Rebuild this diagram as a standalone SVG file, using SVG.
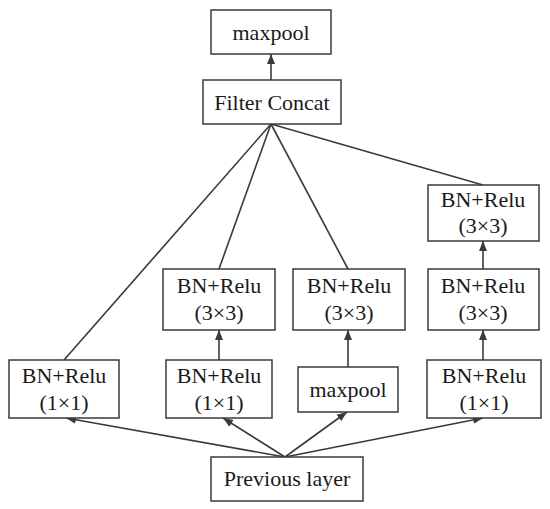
<svg xmlns="http://www.w3.org/2000/svg" width="550" height="509" viewBox="0 0 550 509">
<style>
.box{fill:#fff;stroke:#3a3a3a;stroke-width:1.5}
.t{font-family:"Liberation Serif","Times New Roman",serif;font-size:22px;fill:#1a1a1a;text-anchor:middle}
.ln{stroke:#3a3a3a;stroke-width:1.6;fill:none}
</style>
<defs>
<marker id="ah" markerWidth="10" markerHeight="10" viewBox="0 0 10 10" refX="10" refY="5" orient="auto" markerUnits="userSpaceOnUse">
<path d="M0,1 L10,5 L0,9 Z" fill="#3a3a3a"/>
</marker>
</defs>
<rect width="550" height="509" fill="#fff"/>
<g id="connectors">
<line class="ln" x1="271" y1="80" x2="271" y2="54" marker-end="url(#ah)"/>
<line class="ln" x1="271" y1="124" x2="64" y2="360"/>
<line class="ln" x1="271" y1="124" x2="219" y2="269"/>
<line class="ln" x1="271" y1="124" x2="348" y2="269"/>
<line class="ln" x1="271" y1="124" x2="483" y2="185"/>
<line class="ln" x1="219" y1="360" x2="219" y2="330" marker-end="url(#ah)"/>
<line class="ln" x1="348" y1="367" x2="348" y2="330" marker-end="url(#ah)"/>
<line class="ln" x1="483" y1="360" x2="483" y2="330" marker-end="url(#ah)"/>
<line class="ln" x1="483" y1="269" x2="483" y2="241" marker-end="url(#ah)"/>
<line class="ln" x1="285" y1="457" x2="66" y2="418" marker-end="url(#ah)"/>
<line class="ln" x1="285" y1="457" x2="223" y2="418" marker-end="url(#ah)"/>
<line class="ln" x1="285" y1="457" x2="347" y2="412" marker-end="url(#ah)"/>
<line class="ln" x1="285" y1="457" x2="483" y2="418" marker-end="url(#ah)"/>
</g>
<g id="maxpool_top"><rect class="box" x="211" y="10" width="120" height="44"/><text class="t" x="271" y="40">maxpool</text></g>
<g id="filter_concat"><rect class="box" x="203" y="80" width="138" height="44"/><text class="t" x="272" y="110">Filter Concat</text></g>
<g id="b1_1x1"><rect class="box" x="9" y="360" width="110" height="58"/><text class="t" x="64" y="383">BN+Relu</text><text class="t" x="64" y="410">(1×1)</text></g>
<g id="b2_1x1"><rect class="box" x="166" y="360" width="106" height="58"/><text class="t" x="219" y="383">BN+Relu</text><text class="t" x="219" y="410">(1×1)</text></g>
<g id="b2_3x3"><rect class="box" x="163" y="269" width="112" height="61"/><text class="t" x="219" y="293">BN+Relu</text><text class="t" x="219" y="320">(3×3)</text></g>
<g id="b3_maxpool"><rect class="box" x="298" y="367" width="100" height="45"/><text class="t" x="348" y="397">maxpool</text></g>
<g id="b3_3x3"><rect class="box" x="293" y="269" width="112" height="61"/><text class="t" x="349" y="293">BN+Relu</text><text class="t" x="349" y="320">(3×3)</text></g>
<g id="b4_1x1"><rect class="box" x="427" y="360" width="114" height="58"/><text class="t" x="484" y="383">BN+Relu</text><text class="t" x="484" y="410">(1×1)</text></g>
<g id="b4_3x3a"><rect class="box" x="428" y="269" width="111" height="61"/><text class="t" x="483" y="293">BN+Relu</text><text class="t" x="483" y="320">(3×3)</text></g>
<g id="b4_3x3b"><rect class="box" x="428" y="185" width="111" height="56"/><text class="t" x="483" y="207">BN+Relu</text><text class="t" x="483" y="233">(3×3)</text></g>
<g id="previous_layer"><rect class="box" x="211" y="457" width="152" height="44"/><text class="t" x="287" y="486">Previous layer</text></g>
</svg>
